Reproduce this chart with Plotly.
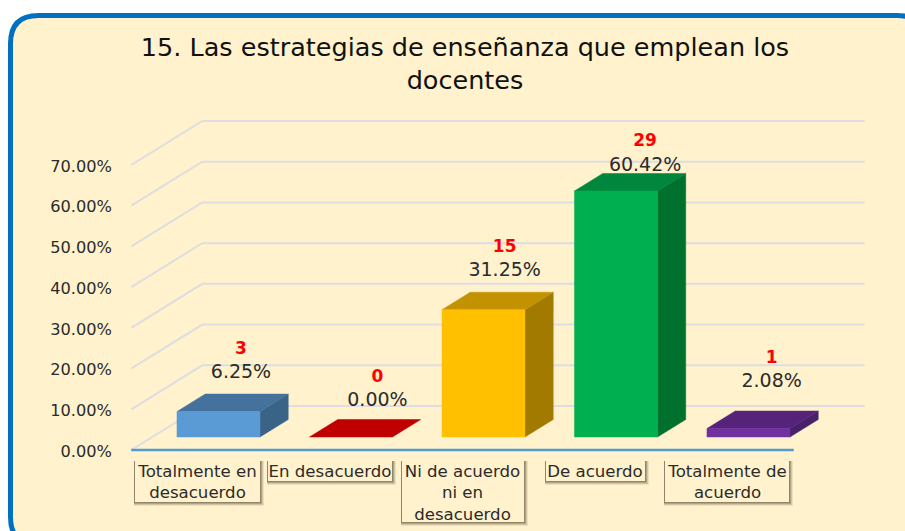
import plotly.graph_objects as go

# ---- data ----
categories = ["Totalmente en<br>desacuerdo", "En desacuerdo", "Ni de acuerdo<br>ni en<br>desacuerdo",
              "De acuerdo", "Totalmente de<br>acuerdo"]
percent_values = [6.25, 0.00, 31.25, 60.42, 2.08]
counts = [3, 0, 15, 29, 1]
tick_values = [0, 10, 20, 30, 40, 50, 60, 70]
title_text = "15. Las estrategias de enseñanza que emplean los<br>docentes"

# ---- styles ----
front_colors = ["#5B9BD5", "#C00000", "#FFC000", "#00B050", "#7030A0"]
top_colors = ["#44729D", "#C00000", "#C29200", "#00863D", "#55247A"]
side_colors = ["#3A6388", "#C00000", "#A37A00", "#00702F", "#47206A"]
CREAM = "#FFF2CC"
BORDER = "#0070C0"
GRID = "#DDDDE2"
TEXT = "#2B2B2B"
FONT = "DejaVu Sans"

W, H = 905, 531
PX_PER_CAT = 132.5
PX_PER_PCT = 285 / 70
X0_PX = 197.5   # pixel of category 0 on the axis
Y0_PX = 450     # pixel of value 0 on the axis

# oblique projection: depth 1 = back wall
DEPTH_X = 71 / PX_PER_CAT
DEPTH_Y = 44 / PX_PER_PCT
BAR_FRONT, BAR_BACK = 13 / 44, 30.5 / 44
BAR_W = 83 / PX_PER_CAT


def project(x, v, d):
    return x + d * DEPTH_X, v + d * DEPTH_Y


def px(x):
    return x / W


def py(y):
    return 1 - y / H


# label placement relative to the bar (manual in the source chart)
label_dx = [0.17, 0.20, 0.16, 0.22, 0.175]
pct_level = [18.8, 11.9, 43.9, 69.6, 16.6]
cnt_level = [24.6, 17.8, 49.6, 75.7, 22.3]

fig = go.Figure()


def poly(xs, ys, color):
    fig.add_trace(go.Scatter(x=xs + xs[:1], y=ys + ys[:1], mode="lines", fill="toself",
                             fillcolor=color, line=dict(color=color, width=0.5),
                             hoverinfo="skip", showlegend=False))


# gridlines on side and back walls
for t in tick_values:
    a = project(-0.5, t, 0)
    b = project(-0.5, t, 1)
    c = project(4.5, t, 1)
    fig.add_trace(go.Scatter(x=[a[0], b[0], c[0]], y=[a[1], b[1], c[1]], mode="lines",
                             line=dict(color=GRID, width=2), hoverinfo="skip", showlegend=False))

# category axis line
fig.add_trace(go.Scatter(x=[-0.5, 4.5], y=[0, 0], mode="lines",
                         line=dict(color="#4F9BD0", width=2.5), hoverinfo="skip", showlegend=False))

# bars
for i, v in enumerate(percent_values):
    l, r = i - BAR_W / 2, i + BAR_W / 2
    fl = project(l, 0, BAR_FRONT)
    fr = project(r, 0, BAR_FRONT)
    tl = project(l, v, BAR_FRONT)
    tr = project(r, v, BAR_FRONT)
    bl = project(l, v, BAR_BACK)
    br = project(r, v, BAR_BACK)
    b0 = project(r, 0, BAR_BACK)
    if v > 0:
        poly([fr[0], b0[0], br[0], tr[0]], [fr[1], b0[1], br[1], tr[1]], side_colors[i])
    poly([tl[0], tr[0], br[0], bl[0]], [tl[1], tr[1], br[1], bl[1]], top_colors[i])
    if v > 0:
        poly([fl[0], fr[0], tr[0], tl[0]], [fl[1], fr[1], tr[1], tl[1]], front_colors[i])

# data labels
lx = [i + BAR_W / 2 - 0.313 + d + 0.158 for i, d in enumerate(label_dx)]
fig.add_trace(go.Scatter(x=lx, y=pct_level, mode="text",
                         text=[f"{v:.2f}%" for v in percent_values],
                         textfont=dict(family=FONT, size=19, color=TEXT),
                         hoverinfo="skip", showlegend=False))
fig.add_trace(go.Scatter(x=lx, y=cnt_level, mode="text",
                         text=[str(c) for c in counts],
                         textfont=dict(family=FONT, size=17, color="#FF0000", weight="bold"),
                         hoverinfo="skip", showlegend=False))

# card
R = 28
X1, Y1, X2, Y2 = 10.5, 15.5, 925, 545
card = (f"M {px(X1)} {py(Y2-R)} L {px(X1)} {py(Y1+R)} Q {px(X1)} {py(Y1)} {px(X1+R)} {py(Y1)} "
        f"L {px(X2-R)} {py(Y1)} Q {px(X2)} {py(Y1)} {px(X2)} {py(Y1+R)} L {px(X2)} {py(Y2-R)} "
        f"Q {px(X2)} {py(Y2)} {px(X2-R)} {py(Y2)} L {px(X1+R)} {py(Y2)} Q {px(X1)} {py(Y2)} {px(X1)} {py(Y2-R)} Z")
shapes = [dict(type="path", path=card, xref="paper", yref="paper", layer="below",
               fillcolor=CREAM, line=dict(color=BORDER, width=5))]

# category label boxes with drop shadow
boxes = [(135, 260, 460, 502), (268, 392, 460, 481), (402, 524, 460, 522),
         (546, 645, 460, 481), (665, 789, 460, 502)]
for x0, x1, y0, y1 in boxes:
    for off, op in ((4, 0.10), (3, 0.16), (2, 0.24), (1, 0.3)):
        shapes.append(dict(type="rect", xref="paper", yref="paper", layer="below",
                           x0=px(x0 - 1), x1=px(x1 + off), y0=py(y0 + 1), y1=py(y1 + off),
                           fillcolor=f"rgba(70,60,40,{op})", line=dict(width=0)))
    shapes.append(dict(type="rect", xref="paper", yref="paper", layer="below",
                       x0=px(x0), x1=px(x1), y0=py(y0), y1=py(y1),
                       fillcolor=CREAM, line=dict(width=0)))

fig.update_layout(
    width=W, height=H,
    margin=dict(l=0, r=0, t=0, b=0),
    paper_bgcolor="white", plot_bgcolor="rgba(0,0,0,0)",
    showlegend=False,
    shapes=shapes,
    title=dict(text=title_text, x=465 / W, xanchor="center", y=1 - 56 / H, yanchor="top",
               pad=dict(t=0), font=dict(family=FONT, size=25.5, color="#111111")),
    xaxis=dict(range=[(0 - X0_PX) / PX_PER_CAT, (W - X0_PX) / PX_PER_CAT],
               domain=[0, 1], anchor="free", position=(H - Y0_PX) / H,
               tickmode="array", tickvals=list(range(5)), ticktext=categories,
               tickfont=dict(family=FONT, size=16.6, color=TEXT), ticklabelstandoff=9,
               tickangle=0, ticks="", showgrid=False, zeroline=False, showline=False, fixedrange=True),
    yaxis=dict(range=[(Y0_PX - H) / PX_PER_PCT, Y0_PX / PX_PER_PCT],
               domain=[0, 1], anchor="free", position=112 / W,
               tickmode="array", tickvals=tick_values, ticktext=[f"{t:.2f}%" for t in tick_values],
               tickfont=dict(family=FONT, size=16.2, color=TEXT), ticklabelshift=1,
               ticks="", showgrid=False, zeroline=False, showline=False, fixedrange=True),
)

fig.write_html("out.html", post_script="document.body.style.margin='0';", config={"displayModeBar": False})
